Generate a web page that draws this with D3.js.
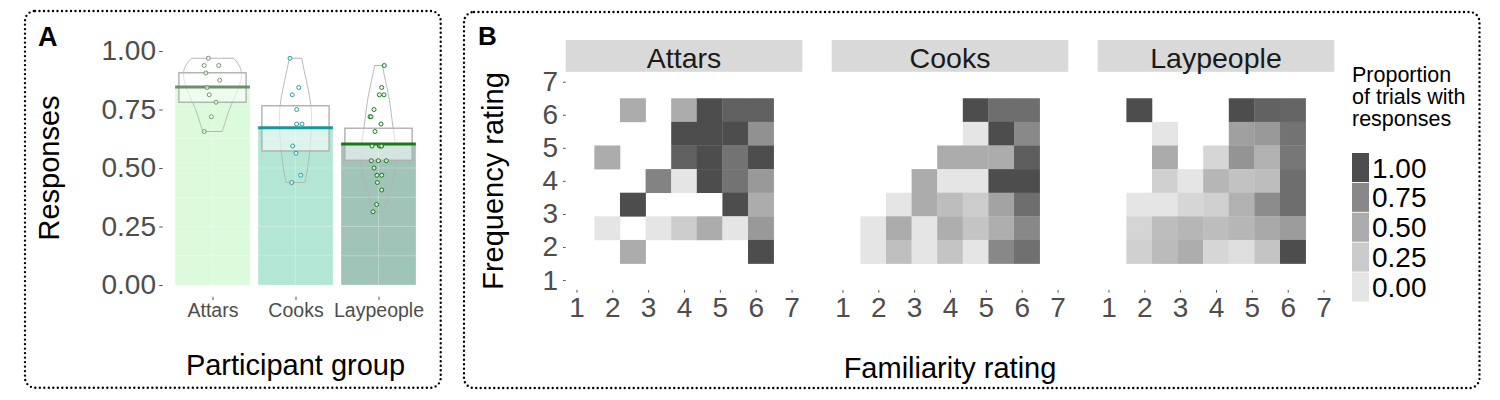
<!DOCTYPE html>
<html><head><meta charset="utf-8">
<script src="https://cdn.jsdelivr.net/npm/d3@7"></script>
<style>
body{margin:0;background:#fff}
svg{display:block}
text{font-family:"Liberation Sans",Arial,Helvetica,sans-serif}
</style>
</head><body>
<svg id="c" width="1500" height="400"></svg>
<script>
// ---------------- DATA ----------------
const groups = ["Attars", "Cooks", "Laypeople"];

// Panel A: per-participant proportion of trials with responses
const attarsResp = [0.969, 0.938, 0.938, 0.906, 0.875, 0.844, 0.813, 0.781, 0.719, 0.656];
const cooksResp = [0.969, 0.844, 0.813, 0.75, 0.688, 0.688, 0.594, 0.563, 0.469, 0.438];
const laypeopleResp = [0.938, 0.844, 0.813, 0.813, 0.75, 0.719, 0.719, 0.688, 0.656, 0.594, 0.594, 0.594, 0.594,
  0.531, 0.531, 0.531, 0.5, 0.469, 0.469, 0.438, 0.406, 0.344, 0.313];
// horizontal jitter of the points (category units)
const attarsJitter = [-0.05, -0.10, 0.075, -0.08, 0.087, -0.066, -0.039, 0.042, -0.014, -0.10];
const cooksJitter = [-0.066, 0.039, -0.039, 0.014, 0.014, 0.078, -0.034, 0.006, 0.063, -0.046];
const laypeopleJitter = [0.07, 0.039, 0.01, 0.066, -0.054, -0.102, -0.09, 0.03, -0.042, -0.078, 0.01, 0.027, 0.039,
  -0.087, -0.002, 0.094, -0.054, -0.018, 0.039, -0.014, 0.039, -0.022, -0.066];
const groupMeans = [0.846, 0.672, 0.603];
const bandLower = [0.781, 0.573, 0.533];
const bandUpper = [0.907, 0.766, 0.670];
const yTicksA = [0, 0.25, 0.5, 0.75, 1];

// Panel B: proportion of trials with responses, rows = frequency 7..1, cols = familiarity 1..7
const freqRows = [7, 6, 5, 4, 3, 2, 1];
const famCols = [1, 2, 3, 4, 5, 6, 7];
const attarsHeat = [
  [null, 0.5, null, 0.5, 1, 0.92, 0.92],
  [null, null, null, 1, 1, 1, 0.69],
  [0.5, null, null, 0.92, 1, 0.84, 1],
  [null, null, 0.77, 0, 1, 0.84, 0.63],
  [null, 1, null, null, null, 1, 0.5],
  [0, null, 0, 0.24, 0.5, 0, 0.63],
  [null, 0.5, null, null, null, null, 1]
];
const cooksHeat = [
  [null, null, null, null, 1, 0.86, 0.86],
  [null, null, null, null, 0, 1, 0.74],
  [null, null, null, 0.5, 0.5, 0.5, 0.93],
  [null, null, 0.5, 0, 0, 1, 1],
  [null, 0, 0.5, 0.36, 0.24, 0.56, 0.86],
  [0, 0.5, 0, 0.48, 0.31, 0.48, 0.75],
  [0, 0.35, 0, 0.31, 0, 0.75, 0.85]
];
const laypeopleHeat = [
  [1, null, null, null, 1, 0.91, 0.90],
  [null, 0, null, null, 0.58, 0.63, 0.84],
  [null, 0.51, null, 0.14, 0.67, 0.46, 0.82],
  [null, 0.20, 0, 0.42, 0.32, 0.36, 0.86],
  [0, 0, 0.14, 0.20, 0.46, 0.72, 0.86],
  [0.15, 0.36, 0.42, 0.36, 0.42, 0.53, 0.61],
  [0.20, 0.38, 0.49, 0.14, 0.07, 0.31, 1]
];
const ratingTicks = [1, 2, 3, 4, 5, 6, 7];
const legendBreaks = [1, 0.75, 0.5, 0.25, 0];

// ---------------- STYLE ----------------
const barCol = ["#dcfbdc", "#b3e6d5", "#a1c4b8"];
const meanCol = ["#6b8f6b", "#16979b", "#167816"];
const ptCol = ["#6f9a6f", "#27a0a0", "#1b7a1b"];
const tickGrey = "#4d4d4d";

const svg = d3.select("#c");

function dottedBox(x, y, w, h) {
  svg.append("rect").attr("x", x).attr("y", y).attr("width", w).attr("height", h)
    .attr("rx", 10).attr("ry", 10).attr("fill", "none").attr("stroke", "#000")
    .attr("stroke-width", 2.4).attr("stroke-dasharray", "0 4.5").attr("stroke-linecap", "round");
}
dottedBox(25, 11, 415.7, 376.7);
dottedBox(464, 12, 1015.5, 376);

svg.append("text").attr("x", 38).attr("y", 46).attr("font-size", 27).attr("font-weight", "bold").text("A");
svg.append("text").attr("x", 478).attr("y", 45).attr("font-size", 26).attr("font-weight", "bold").text("B");

// ---------------- PANEL A ----------------
const respSets = [attarsResp, cooksResp, laypeopleResp];
const jitSets = [attarsJitter, cooksJitter, laypeopleJitter];
const ax = d3.scalePoint().domain(groups).range([162.7, 428.3]).padding(0.6);
const step = ax.step();
const ay = d3.scaleLinear().domain([-0.05, 1.05]).range([296.7, 39.3]);
const gA = svg.append("g");

// bars
gA.selectAll("rect.bar").data(groups).join("rect").attr("class", "bar")
  .attr("x", d => ax(d) - 0.45 * step).attr("width", 0.9 * step)
  .attr("y", (d, i) => ay(groupMeans[i])).attr("height", (d, i) => ay(0) - ay(groupMeans[i]))
  .attr("fill", (d, i) => barCol[i]);

// faint grid showing through the bars
const gridVals = d3.range(0, 1.0001, 0.125);
gA.selectAll("line.gh").data(gridVals).join("line").attr("class", "gh")
  .attr("x1", 162.7).attr("x2", 428.3).attr("y1", d => ay(d)).attr("y2", d => ay(d))
  .attr("stroke", "#fff").attr("stroke-opacity", 0.35).attr("stroke-width", 0.8);
gA.selectAll("line.gv").data(groups).join("line").attr("class", "gv")
  .attr("x1", d => ax(d)).attr("x2", d => ax(d)).attr("y1", 39.3).attr("y2", 296.7)
  .attr("stroke", "#fff").attr("stroke-opacity", 0.35).attr("stroke-width", 0.8);

// beans (kernel density, nrd0 bandwidth, cut at data range)
function nrd0(v) {
  const s = v.slice().sort(d3.ascending);
  const sd = d3.deviation(s);
  const iqr = (d3.quantile(s, 0.75) - d3.quantile(s, 0.25)) / 1.34;
  const lo = Math.min(sd, iqr) || sd;
  return 0.9 * lo * Math.pow(s.length, -0.2);
}
const dens = respSets.map(v => {
  const h = nrd0(v), mn = d3.min(v), mx = d3.max(v);
  return d3.range(0, 101).map(k => {
    const y = mn + (mx - mn) * k / 100;
    const d = d3.mean(v, x => Math.exp(-0.5 * ((y - x) / h) ** 2) / (h * Math.sqrt(2 * Math.PI)));
    return [y, d];
  });
});
const maxD = d3.max(dens, a => d3.max(a, p => p[1]));
const wScale = d3.scaleLinear().domain([0, maxD]).range([0, 0.35 * step]);
dens.forEach((a, i) => {
  const cx = ax(groups[i]);
  const pts = a.map(p => [cx - wScale(p[1]), ay(p[0])])
    .concat(a.slice().reverse().map(p => [cx + wScale(p[1]), ay(p[0])]));
  gA.append("path").attr("d", d3.line()(pts) + "Z").attr("fill", "none")
    .attr("stroke", "#b5b5b5").attr("stroke-width", 1);
});

// inference bands
gA.selectAll("rect.band").data(groups).join("rect").attr("class", "band")
  .attr("x", d => ax(d) - 0.405 * step).attr("width", 0.81 * step)
  .attr("y", (d, i) => ay(bandUpper[i])).attr("height", (d, i) => ay(bandLower[i]) - ay(bandUpper[i]))
  .attr("fill", "#fff").attr("fill-opacity", 0.55).attr("stroke", "#b0b0b0").attr("stroke-width", 1.4);

// mean lines
gA.selectAll("line.mean").data(groups).join("line").attr("class", "mean")
  .attr("x1", d => ax(d) - 0.45 * step).attr("x2", d => ax(d) + 0.45 * step)
  .attr("y1", (d, i) => ay(groupMeans[i])).attr("y2", (d, i) => ay(groupMeans[i]))
  .attr("stroke", (d, i) => meanCol[i]).attr("stroke-width", 3);

// points
respSets.forEach((v, i) => {
  gA.selectAll(null).data(v).join("circle")
    .attr("cx", (d, j) => ax(groups[i]) + jitSets[i][j] * step).attr("cy", d => ay(d))
    .attr("r", 2).attr("fill", "#fff").attr("fill-opacity", 0.6)
    .attr("stroke", ptCol[i]).attr("stroke-width", 1);
});

// axes
const yAxA = gA.append("g").attr("transform", "translate(162.7,0)")
  .call(d3.axisLeft(ay).tickValues(yTicksA).tickFormat(d3.format(".2f")).tickSize(3.5).tickPadding(3.2));
yAxA.select(".domain").remove();
yAxA.selectAll("text").attr("font-size", 28).attr("fill", tickGrey).attr("font-family", null);
yAxA.selectAll("line").attr("stroke", "#555");

const xAxA = gA.append("g").attr("transform", "translate(0,296.7)")
  .call(d3.axisBottom(ax).tickSize(3.3).tickPadding(3));
xAxA.select(".domain").remove();
xAxA.selectAll("text").attr("font-size", 19.5).attr("fill", tickGrey).attr("font-family", null);
xAxA.selectAll("line").attr("stroke", "#555");

svg.append("text").attr("x", 295.5).attr("y", 375).attr("text-anchor", "middle")
  .attr("font-size", 29).text("Participant group");
svg.append("text").attr("transform", "translate(59,168) rotate(-90)").attr("text-anchor", "middle")
  .attr("font-size", 29).text("Responses");

// ---------------- PANEL B ----------------
const heatSets = [attarsHeat, cooksHeat, laypeopleHeat];
const facet = d3.scaleBand().domain(groups).range([565.7, 1334.3]).paddingInner(0.1105).paddingOuter(0);
const pw = facet.bandwidth();
const hy = d3.scaleLinear().domain([0.7, 7.3]).range([290, 71.8]);
const fill = d3.scaleLinear().domain([0, 0.25, 0.5, 0.75, 1])
  .range(["#e5e5e5", "#cbcbcb", "#acacac", "#888888", "#4d4d4d"]);

groups.forEach((g, i) => {
  const x0 = facet(g);
  const hx = d3.scaleLinear().domain([0.7, 7.3]).range([x0, x0 + pw]);
  const cx = d3.scaleBand().domain(famCols).range([hx(1.5), hx(6.5)]);
  const cy = d3.scaleBand().domain(freqRows).range([hy(6.5), hy(1.5)]);
  const gp = svg.append("g");
  // strip
  gp.append("rect").attr("x", x0).attr("y", 40).attr("width", pw).attr("height", 71.8 - 40).attr("fill", "#d9d9d9");
  gp.append("text").attr("x", x0 + pw / 2).attr("y", 67.5).attr("text-anchor", "middle")
    .attr("font-size", 28.5).attr("fill", "#1a1a1a").text(g);
  // cells
  const cells = [];
  heatSets[i].forEach((row, r) => row.forEach((v, c) => {
    if (v !== null) cells.push({ f: freqRows[r], m: famCols[c], v });
  }));
  gp.selectAll("rect.cell").data(cells).join("rect").attr("class", "cell")
    .attr("x", d => cx(d.m)).attr("y", d => cy(d.f))
    .attr("width", cx.bandwidth() + 0.3).attr("height", cy.bandwidth() + 0.3)
    .attr("fill", d => fill(d.v));
  // x axis
  const xa = gp.append("g").attr("transform", "translate(0,290)")
    .call(d3.axisBottom(hx).tickValues(ratingTicks).tickFormat(d3.format("d")).tickSize(2.7).tickPadding(4.1));
  xa.select(".domain").remove();
  xa.selectAll("text").attr("font-size", 28).attr("fill", tickGrey).attr("font-family", null);
  xa.selectAll("line").attr("stroke", "#555");
  if (i === 0) {
    const ya = gp.append("g").attr("transform", `translate(${x0},0)`)
      .call(d3.axisLeft(hy).tickValues(ratingTicks).tickFormat(d3.format("d")).tickSize(2.7).tickPadding(5));
    ya.select(".domain").remove();
    ya.selectAll("text").attr("font-size", 28).attr("fill", tickGrey).attr("font-family", null);
    ya.selectAll("line").attr("stroke", "#555");
  }
});

svg.append("text").attr("x", 950).attr("y", 378).attr("text-anchor", "middle")
  .attr("font-size", 29).text("Familiarity rating");
svg.append("text").attr("transform", "translate(503,181) rotate(-90)").attr("text-anchor", "middle")
  .attr("font-size", 29).text("Frequency rating");

// legend
const lg = svg.append("g");
["Proportion", "of trials with", "responses"].forEach((t, k) => {
  lg.append("text").attr("x", 1352).attr("y", 82 + k * 21.8).attr("font-size", 21.5).text(t);
});
const ly = d3.scaleBand().domain(legendBreaks).range([153, 301.5]).paddingInner(0.03);
lg.selectAll("rect").data(legendBreaks).join("rect")
  .attr("x", 1352).attr("y", d => ly(d)).attr("width", 17).attr("height", ly.bandwidth())
  .attr("fill", d => fill(d));
lg.selectAll("text.lab").data(legendBreaks).join("text").attr("class", "lab")
  .attr("x", 1372).attr("y", d => ly(d) + ly.bandwidth() / 2).attr("dy", "0.36em")
  .attr("font-size", 28).attr("fill", "#000").text(d3.format(".2f"));
</script>
</body></html>
